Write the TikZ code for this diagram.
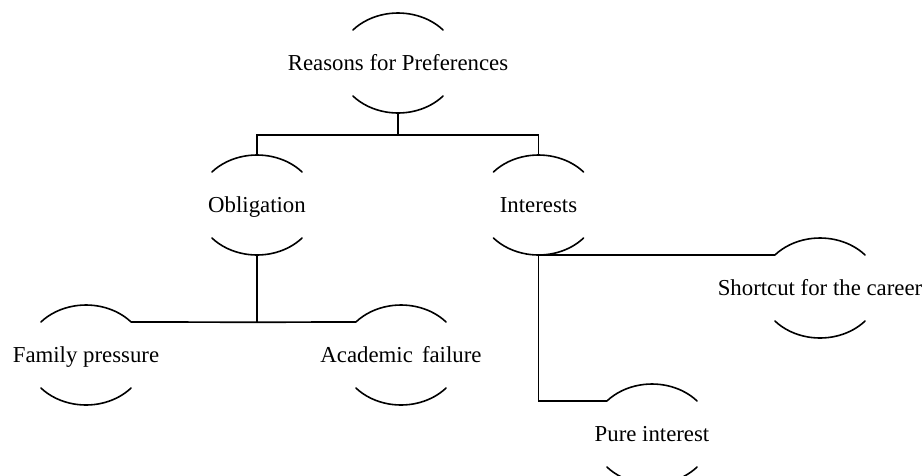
\documentclass[tikz,border=0pt]{standalone}
\usepackage{fontspec}
\setmainfont{Liberation Serif}
\usetikzlibrary{calc}
\tikzset{
  hub/.style={rectangle, draw=none, inner sep=0pt, minimum height=100pt, minimum width=90pt,
    text height=19pt, text depth=5pt,
    font=\fontsize{22.8pt}{27pt}\selectfont},
  arcline/.style={line width=1.6pt, line cap=round},
  link/.style={line width=1.7pt}
}
\begin{document}
\begin{tikzpicture}[x=1pt,y=1pt]
\useasboundingbox (0,0) rectangle (924,-475);
\clip (0,0) rectangle (924,-475);
\node[hub] (root) at (398,-63) {Reasons for Preferences};
\node[hub] (obl) at (257,-205) {Obligation};
\node[hub] (int) at (538.5,-205) {Interests};
\node[hub] (fam) at (86,-355) {Family pressure};
\node[hub] (aca) at (401,-355) {Academic\hspace{0.4em}failure};
\node[hub] (sho) at (820,-288) {Shortcut for the career};
\node[hub] (pur) at (652,-434) {Pure interest};
\foreach \n in {root,obl,int,fam,aca,sho,pur}{
  \draw[arcline] ($(\n.center)+(41.3:60pt and 50pt)$) coordinate (\n-tr)
     arc[start angle=41.3, end angle=138.7, x radius=60pt, y radius=50pt] coordinate (\n-tl);
  \draw[arcline] ($(\n.center)+(-41.3:60pt and 50pt)$) coordinate (\n-br)
     arc[start angle=-41.3, end angle=-138.7, x radius=60pt, y radius=50pt] coordinate (\n-bl);
}
\draw[link] (root.south) -- ++(0,-22) coordinate (rj);
\draw[link] (obl.north) |- (rj) -| (int.north);
\draw[link] (obl.south) -- ++(0,-67) coordinate (oj);
\draw[link] (fam-tr) -- (oj) -- (aca-tl);
\draw[link] (sho-tl) -| (int.south);
\draw[link] (int.south) |- (pur-tl);
\end{tikzpicture}
\end{document}
